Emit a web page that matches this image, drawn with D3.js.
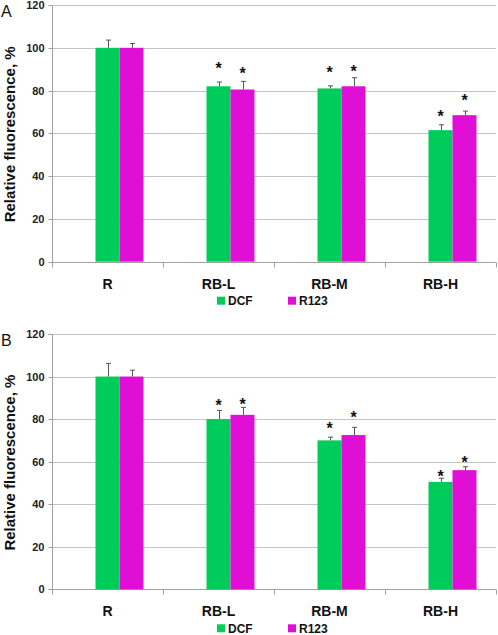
<!DOCTYPE html>
<html>
<head>
<meta charset="utf-8">
<script src="https://cdn.jsdelivr.net/npm/d3@7/dist/d3.min.js"></script>
<style>
  html, body { margin: 0; padding: 0; background: #fff; }
  svg { display: block; font-family: Arial, "Liberation Sans", sans-serif; }
</style>
</head>
<body>
<svg id="chart" width="498" height="635"></svg>
<script>
// ---- data ----
const categories = ["R", "RB-L", "RB-M", "RB-H"];
const seriesNames = ["DCF", "R123"];
const yTicks = [0, 20, 40, 60, 80, 100, 120];

// Panel A
const dcfA = [100, 82, 81, 61.5];
const dcfErrA = [3.6, 2.0, 1.2, 2.5];
const r123A = [100, 80.5, 82, 68.5];
const r123ErrA = [2.0, 3.8, 4.0, 1.9];
const dcfStarA = [null, 92, 90.1, 69.7];   // asterisk level, data units
const r123StarA = [null, 89.6, 90.7, 77];

// Panel B
const dcfB = [100, 80, 70, 50.5];
const dcfErrB = [6.2, 4.1, 1.5, 1.7];
const r123B = [100, 82, 72.5, 56];
const r123ErrB = [3.0, 3.5, 3.6, 1.6];
const dcfStarB = [null, 87.9, 77.2, 54.8];
const r123StarB = [null, 88.5, 82.5, 61.2];

// ---- styles ----
const colors = { DCF: "#00cc5c", R123: "#e00fd6" };
const svg = d3.select("#chart");

function drawPanel(opts) {
  const { letter, top, zero, dcf, dcfErr, r123, r123Err, dcfStar, r123Star } = opts;
  const left = 52, right = 496;
  const g = svg.append("g");

  const y = d3.scaleLinear().domain([0, 120]).range([zero, top]);
  const x0 = d3.scaleBand().domain(categories).range([left, right]).paddingInner(0).paddingOuter(0);
  // Excel-style cluster with an empty leading slot
  const x1 = d3.scaleBand().domain(["_", ...seriesNames]).range([0, x0.bandwidth()]).paddingInner(0).paddingOuter(0.8125);

  // gridlines
  g.selectAll("line.grid").data(yTicks.filter(d => d > 0)).join("line")
    .attr("x1", left).attr("x2", right)
    .attr("y1", d => Math.round(y(d)) + 0.5).attr("y2", d => Math.round(y(d)) + 0.5)
    .attr("stroke", "#c4c4c4").attr("stroke-width", 1);

  // y axis
  const yAxis = d3.axisLeft(y).tickValues(yTicks).tickSize(4).tickPadding(5).tickFormat(d3.format("d"));
  const ya = g.append("g").attr("transform", `translate(${left + 0.5},0)`).call(yAxis);
  ya.select(".domain").attr("stroke", "#a0a0a0").attr("d", `M-4,${Math.round(y(120)) + 0.5}H0V${Math.round(y(0)) + 0.5}`);
  ya.selectAll(".tick line").attr("stroke", "#a0a0a0").attr("transform", "translate(0,0)");
  ya.selectAll(".tick").attr("transform", d => `translate(0,${Math.round(y(d)) + 0.5})`);
  ya.selectAll(".tick text").attr("font-size", 11).attr("font-weight", "bold").attr("fill", "#222")
    .attr("font-family", "Arial, 'Liberation Sans', sans-serif").attr("x", -8);

  // x axis
  const xBase = Math.round(y(0)) + 0.5;
  g.append("line").attr("x1", left).attr("x2", right).attr("y1", xBase).attr("y2", xBase)
    .attr("stroke", "#a0a0a0");
  const bounds = categories.map(c => x0(c)).concat([right]);
  g.selectAll("line.xt").data(bounds).join("line")
    .attr("x1", d => Math.round(d) + 0.5).attr("x2", d => Math.round(d) + 0.5)
    .attr("y1", xBase).attr("y2", xBase + 5).attr("stroke", "#a0a0a0");

  // bars
  const rows = categories.map((c, i) => ({
    cat: c,
    vals: [
      { s: "DCF", v: dcf[i], e: dcfErr[i], star: dcfStar[i] },
      { s: "R123", v: r123[i], e: r123Err[i], star: r123Star[i] }
    ]
  }));
  const grp = g.selectAll("g.cat").data(rows).join("g")
    .attr("transform", d => `translate(${x0(d.cat)},0)`);

  grp.selectAll("rect").data(d => d.vals).join("rect")
    .attr("x", d => x1(d.s)).attr("width", x1.bandwidth())
    .attr("y", d => y(d.v)).attr("height", d => y(0) - y(d.v))
    .attr("fill", d => colors[d.s]);

  // error bars (upper only)
  grp.selectAll("path.err").data(d => d.vals).join("path")
    .attr("d", d => {
      const cx = Math.round(x1(d.s) + x1.bandwidth() / 2) + 0.5;
      const yt = y(d.v + d.e), yb = y(d.v);
      return `M${cx},${yb}V${yt}M${cx - 2.5},${yt}H${cx + 2.5}`;
    })
    .attr("stroke", "#555").attr("stroke-width", 1).attr("fill", "none");

  // asterisks
  grp.selectAll("text.star").data(d => d.vals.filter(v => v.star != null)).join("text")
    .attr("x", d => x1(d.s) + x1.bandwidth() / 2)
    .attr("y", d => y(d.star) + 9)
    .attr("text-anchor", "middle").attr("font-size", 16).attr("font-weight", "bold").attr("fill", "#111")
    .text("*");

  // category labels
  g.selectAll("text.cat").data(categories).join("text")
    .attr("x", d => x0(d) + x0.bandwidth() / 2)
    .attr("y", zero + 27)
    .attr("text-anchor", "middle").attr("font-size", 14).attr("font-weight", "bold").attr("fill", "#111")
    .text(d => d);

  // legend
  const legY = zero + 39;
  const legX = [217, 288];
  const leg = g.selectAll("g.leg").data(seriesNames).join("g")
    .attr("transform", (d, i) => `translate(${legX[i]},${legY})`);
  leg.append("rect").attr("x", 0).attr("y", -4).attr("width", 8).attr("height", 8).attr("fill", d => colors[d]);
  leg.append("text").attr("x", 11).attr("y", 4.5).attr("font-size", 12).attr("font-weight", "bold").attr("fill", "#111")
    .text(d => d);

  // y title
  g.append("text")
    .attr("transform", `translate(9,${(y(120) + y(0)) / 2 + 1}) rotate(-90)`)
    .attr("text-anchor", "middle").attr("dominant-baseline", "central")
    .attr("font-size", 15).attr("font-weight", "bold").attr("fill", "#111")
    .text("Relative fluorescence, %");

  // panel letter
  g.append("text").attr("x", 1).attr("y", top + 12).attr("font-size", 16).attr("fill", "#111").text(letter);
}

drawPanel({ letter: "A", top: 5, zero: 261.7, dcf: dcfA, dcfErr: dcfErrA, r123: r123A, r123Err: r123ErrA, dcfStar: dcfStarA, r123Star: r123StarA });
drawPanel({ letter: "B", top: 334, zero: 589.3, dcf: dcfB, dcfErr: dcfErrB, r123: r123B, r123Err: r123ErrB, dcfStar: dcfStarB, r123Star: r123StarB });
</script>
</body>
</html>
